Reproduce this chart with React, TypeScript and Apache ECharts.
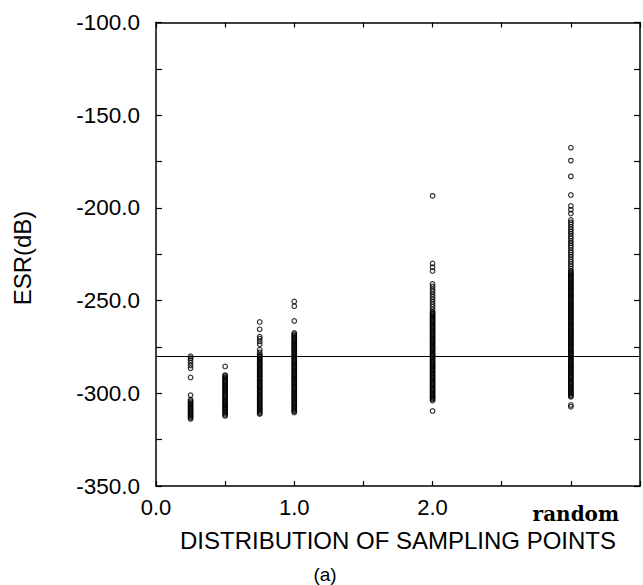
import React, { useEffect, useRef } from "react";
import * as echarts from "echarts";

// x positions of the columns (the last one is "random")
const COLUMN_X = [0.25, 0.5, 0.75, 1.0, 2.0, 3.0];

const col025 = [-280, -281, -282.2, -283.5, -285, -286.5, -291.5, -301, -303.5, -304.2, -304.8, -305.5, -306.1, -306.8, -307.4, -308, -308.7, -309.3, -310, -310.6, -311.2, -311.9, -312.5, -313.1, -313.8];
const col050 = [-285.5, -290.2, -290.8, -291.4, -292, -292.7, -293.3, -293.9, -294.6, -295.2, -295.8, -296.4, -297.1, -297.7, -298.3, -299, -299.6, -300.2, -300.9, -301.5, -302.1, -302.7, -303.4, -304, -304.6, -305.3, -305.9, -306.5, -307.2, -307.8, -308.4, -309, -309.7, -310.3, -310.9, -311.6, -312.2];
const col075 = [-261.5, -265.5, -269.5, -270.6, -272, -273.5, -276.5, -278, -279.2, -279.8, -280.4, -281.1, -281.7, -282.3, -283, -283.6, -284.2, -284.8, -285.5, -286.1, -286.7, -287.4, -288, -288.6, -289.3, -289.9, -290.5, -291.1, -291.8, -292.4, -293, -293.7, -294.3, -294.9, -295.6, -296.2, -296.8, -297.4, -298.1, -298.7, -299.3, -300, -300.6, -301.2, -301.9, -302.5, -303.1, -303.7, -304.4, -305, -305.6, -306.3, -306.9, -307.5, -308.2, -308.8, -309.4, -310, -310.7, -311.2];
const col100 = [-250.5, -253, -261, -267.5, -268.1, -268.8, -269.4, -270, -270.7, -271.3, -271.9, -272.6, -273.2, -273.8, -274.4, -275.1, -275.7, -276.3, -277, -277.6, -278.2, -278.9, -279.5, -280.1, -280.7, -281.4, -282, -282.6, -283.3, -283.9, -284.5, -285.2, -285.8, -286.4, -287, -287.7, -288.3, -288.9, -289.6, -290.2, -290.8, -291.5, -292.1, -292.7, -293.3, -294, -294.6, -295.2, -295.9, -296.5, -297.1, -297.8, -298.4, -299, -299.6, -300.3, -300.9, -301.5, -302.2, -302.8, -303.4, -304.1, -304.7, -305.3, -305.9, -306.6, -307.2, -307.8, -308.5, -309.1, -309.7, -310.4];
const col200 = [-193.5, -230, -232, -234, -241, -242.4, -243.8, -245.1, -246.5, -247.9, -249.2, -250.6, -252, -253.3, -254.7, -256, -256.6, -257.3, -257.9, -258.5, -259.2, -259.8, -260.4, -261, -261.7, -262.3, -262.9, -263.6, -264.2, -264.8, -265.5, -266.1, -266.7, -267.3, -268, -268.6, -269.2, -269.9, -270.5, -271.1, -271.8, -272.4, -273, -273.6, -274.3, -274.9, -275.5, -276.2, -276.8, -277.4, -278.1, -278.7, -279.3, -279.9, -280.6, -281.2, -281.8, -282.5, -283.1, -283.7, -284.4, -285, -285.6, -286.2, -286.9, -287.5, -288.1, -288.8, -289.4, -290, -290.7, -291.3, -291.9, -292.5, -293.2, -293.8, -294.4, -295.1, -295.7, -296.3, -297, -297.6, -298.2, -298.8, -299.5, -300.1, -300.7, -301.4, -302, -302.6, -303.3, -303.9, -309.5];
const colRandom = [-167.5, -174.5, -183, -193, -199, -201, -203, -206.5, -207.8, -209, -210.3, -211.5, -212.8, -214, -215.3, -216.5, -217.8, -219, -220.3, -221.5, -222.8, -224, -225.3, -226.5, -227.8, -229, -230.3, -231.5, -232.8, -234, -234.6, -235.2, -235.9, -236.5, -237.1, -237.8, -238.4, -239, -239.7, -240.3, -240.9, -241.5, -242.2, -242.8, -243.4, -244.1, -244.7, -245.3, -246, -246.6, -247.2, -247.8, -248.5, -249.1, -249.7, -250.4, -251, -251.6, -252.3, -252.9, -253.5, -254.1, -254.8, -255.4, -256, -256.7, -257.3, -257.9, -258.6, -259.2, -259.8, -260.4, -261.1, -261.7, -262.3, -263, -263.6, -264.2, -264.9, -265.5, -266.1, -266.7, -267.4, -268, -268.6, -269.3, -269.9, -270.5, -271.2, -271.8, -272.4, -273, -273.7, -274.3, -274.9, -275.6, -276.2, -276.8, -277.5, -278.1, -278.7, -279.3, -280, -280.6, -281.2, -281.9, -282.5, -283.1, -283.8, -284.4, -285, -285.6, -286.3, -286.9, -287.5, -288.2, -288.8, -289.4, -290.1, -290.7, -291.3, -291.9, -292.6, -293.2, -293.8, -294.5, -295.1, -295.7, -296.4, -297, -297.6, -298.2, -298.9, -299.5, -300.1, -300.8, -301.4, -301.9, -306.3, -307.3];

const COLUMNS = [col025, col050, col075, col100, col200, colRandom];

const THRESHOLD = -280;

const X_LABELS: Record<string, string> = { "0": "0.0", "1": "1.0", "2": "2.0", "3": "{r|random}" };

const X_NAME = "DISTRIBUTION OF SAMPLING POINTS";
const Y_NAME = "ESR(dB)";
const CAPTION = "(a)";

export default function App() {
  const ref = useRef<HTMLDivElement>(null);
  useEffect(() => {
    document.body.style.margin = "0";
    const chart = echarts.init(ref.current!, null, { renderer: "svg" });
    const data: number[][] = [];
    COLUMNS.forEach((vals, i) => vals.forEach((v) => data.push([COLUMN_X[i], v])));
    const font = "Liberation Sans, Arial, sans-serif";
    const ink = "#000";
    const baseX = {
      type: "value" as const,
      min: 0,
      max: 3.5,
      interval: 0.5,
      axisLine: { show: true, onZero: false, lineStyle: { color: ink, width: 1.5 } },
      axisTick: { show: true, inside: true, length: 5, lineStyle: { color: ink, width: 1.2 } },
      splitLine: { show: false },
    };
    const baseY = {
      type: "value" as const,
      min: -350,
      max: -100,
      interval: 25,
      axisLine: { show: true, onZero: false, lineStyle: { color: ink, width: 1.5 } },
      axisTick: { show: true, inside: true, length: 6, lineStyle: { color: ink, width: 1.2 } },
      splitLine: { show: false },
    };
    chart.setOption({
      animation: false,
      backgroundColor: "#fff",
      grid: { left: 156, top: 22.5, width: 486, height: 463.5 },
      xAxis: [
        {
          ...baseX,
          position: "bottom",
          name: X_NAME,
          nameLocation: "middle",
          nameGap: 39,
          nameTextStyle: { fontFamily: font, fontSize: 24, color: ink },
          axisLabel: {
            margin: 10,
            fontFamily: font,
            fontSize: 22,
            color: ink,
            formatter: (v: number) => X_LABELS[String(v)] ?? "",
            rich: {
              r: { fontFamily: "DejaVu Serif", fontWeight: "bold", fontSize: 20, color: ink, padding: [8, 0, 0, 10] },
            },
          },
        },
        { ...baseX, position: "top", axisLabel: { show: false } },
      ],
      yAxis: [
        {
          ...baseY,
          position: "left",
          axisLabel: {
            margin: 16,
            fontFamily: font,
            fontSize: 22.5,
            color: ink,
            formatter: (v: number) => (v % 50 === 0 ? v.toFixed(1) : ""),
          },
        },
        { ...baseY, position: "right", axisLabel: { show: false } },
      ],
      graphic: [
        {
          type: "text",
          x: 22.5,
          y: 258,
          rotation: Math.PI / 2,
          style: { text: Y_NAME, fontFamily: font, fontSize: 24, fill: ink, align: "center", verticalAlign: "middle" },
        },
        {
          type: "text",
          x: 325,
          y: 574,
          style: { text: CAPTION, fontFamily: font, fontSize: 19, fill: ink, align: "center", verticalAlign: "middle" },
        },
      ],
      series: [
        {
          type: "scatter",
          data,
          symbol: "circle",
          symbolSize: 4.6,
          itemStyle: { color: "transparent", borderColor: "#000", borderWidth: 1.2 },
          markLine: {
            silent: true,
            symbol: "none",
            label: { show: false },
            lineStyle: { color: ink, width: 1.2, type: "solid" },
            data: [{ yAxis: THRESHOLD }],
          },
        },
      ],
    });
    return () => chart.dispose();
  }, []);
  return <div ref={ref} style={{ width: 643, height: 585 }} />;
}
